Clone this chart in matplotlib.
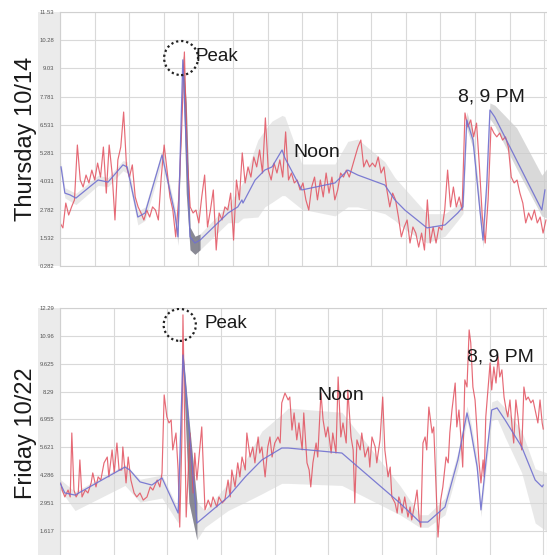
import numpy as np
import matplotlib.pyplot as plt
from matplotlib.patches import Ellipse, Rectangle

plt.rcParams['font.family'] = ['Liberation Sans', 'DejaVu Sans']

# ---- Thursday 10/14 ----
thu_ticks = [0.282, 1.532, 2.782, 4.031, 5.281, 6.531, 7.781, 9.03, 10.28, 11.53]
thu_ticklabels = ["0.282", "1.532", "2.782", "4.031", "5.281", "6.531", "7.781", "9.03", "10.28", "11.53"]

thu_raw = [2.19, 1.97, 3.07, 2.54, 2.90, 3.21, 5.64, 4.09, 3.78, 4.31, 3.96, 4.53, 4.09, 4.84, 4.22,
           5.55, 3.51, 5.64, 4.40, 2.32, 4.98, 5.55, 7.10, 4.67, 4.22, 4.76, 3.34, 2.90, 2.63, 2.32,
           2.76, 2.45, 2.90, 2.76, 2.32, 4.22, 5.64, 4.53, 3.34, 2.76, 1.57, 3.21, 6.17, 9.76, 4.98,
           2.90, 2.63, 2.76, 2.19, 3.34, 4.31, 2.01, 2.76, 3.65, 0.99, 2.63, 2.32, 2.90, 2.76, 3.51,
           1.43, 4.09, 3.21, 5.29, 3.96, 4.67, 4.22, 5.11, 4.67, 5.42, 4.40, 6.84, 4.53, 4.09, 4.84,
           4.40, 4.98, 4.22, 6.22, 4.09, 4.40, 3.96, 4.09, 3.65, 3.96, 3.21, 2.76, 3.78, 4.22, 3.21,
           4.09, 3.34, 4.40, 3.51, 4.22, 3.21, 3.65, 4.40, 4.22, 4.53, 4.22, 4.67, 5.11, 5.55, 5.86,
           4.67, 4.98, 4.67, 4.84, 4.67, 5.11, 4.40, 4.67, 3.65, 2.90, 3.51, 3.21, 2.45, 1.57, 2.01,
           2.32, 1.30, 2.01, 1.74, 1.12, 1.74, 0.99, 3.21, 1.30, 2.01, 1.30, 2.01, 1.88, 2.76, 4.53,
           2.90, 3.78, 2.90, 3.34, 2.76, 7.06, 6.44, 6.75, 6.00, 6.61, 4.67, 2.45, 1.30, 3.21, 6.44,
           6.17, 6.00, 6.17, 5.86, 6.00, 5.55, 4.22, 3.96, 4.09, 3.51, 3.07, 2.19, 2.63, 2.32, 2.76,
           2.19, 2.45, 1.74, 2.32]

thu_trend_x = [0.03, 0.14, 0.29, 0.46, 1.10, 1.39, 1.82, 1.94, 2.25, 2.46, 2.95, 3.32, 3.41, 3.55,
               3.76, 3.90, 4.05, 4.86, 5.14, 5.26, 5.29, 5.64, 5.92, 6.13, 6.42, 6.50, 6.99, 7.95,
               8.32, 8.61, 9.39, 9.68, 9.97, 10.61, 11.13, 11.50, 11.65, 11.76, 11.94, 12.14, 12.23,
               12.34, 12.43, 12.57, 13.93, 14.02]
thu_trend = [4.67, 3.51, 3.43, 3.29, 4.09, 4.00, 4.76, 4.67, 2.45, 2.63, 5.20, 2.63, 1.57, 9.41,
             1.57, 1.30, 1.43, 2.63, 2.90, 3.21, 3.07, 4.09, 4.53, 4.67, 5.42, 5.07, 3.65, 3.96,
             4.53, 4.31, 3.87, 3.21, 2.76, 1.97, 2.10, 2.63, 2.90, 6.75, 5.86, 2.76, 1.43,
             3.96, 7.19, 6.88, 2.76, 3.65]

thu_band_x = [0.03, 0.14, 0.46, 1.10, 1.39, 1.82, 1.94, 2.25, 2.46, 2.95, 3.32, 3.41, 3.55, 3.65,
              3.76, 3.90, 4.05, 4.86, 5.14, 5.29, 5.72, 5.92, 6.13, 6.42, 6.50, 6.99, 7.95, 8.32,
              8.61, 9.39, 9.68, 9.97, 10.61, 11.13, 11.50, 11.65, 11.76, 11.94, 12.14, 12.23, 12.34,
              12.43, 12.57, 13.20, 13.93, 14.08]
thu_band_lo = [4.4, 3.3, 3.0, 3.85, 3.8, 4.5, 4.4, 2.1, 2.3, 4.9, 2.3, 1.2, 9.0, 3.5,
               1.0, 0.8, 1.0, 2.2, 2.2, 2.4, 2.45, 2.9, 3.1, 3.4, 3.4, 2.8, 2.5, 2.9,
               2.9, 2.6, 2.3, 1.9, 1.3, 1.6, 2.3, 2.6, 6.4, 5.5, 2.4, 1.1, 3.6,
               6.8, 6.5, 4.6, 2.5, 2.4]
thu_band_hi = [4.9, 3.75, 3.5, 4.3, 4.2, 4.95, 4.9, 2.7, 2.9, 5.4, 2.9, 1.9, 9.6, 7.5,
               2.0, 1.6, 1.7, 3.0, 3.6, 4.0, 5.86, 6.3, 6.7, 6.95, 6.9, 4.8, 4.8, 5.8,
               5.9, 4.9, 4.2, 3.7, 2.6, 2.6, 3.0, 3.2, 7.1, 6.2, 3.1, 1.8, 4.3,
               7.5, 7.4, 6.4, 4.3, 4.6]

# ---- Friday 10/22 ----
fri_ticks = [0.282, 1.617, 2.951, 4.286, 5.621, 6.955, 8.29, 9.625, 10.96, 12.29]
fri_ticklabels = ["", "1.617", "2.951", "4.286", "5.621", "6.955", "8.29", "9.625", "10.96", "12.29"]

fri_raw_x = [0.00, 0.04, 0.09, 0.15, 0.19, 0.22, 0.26, 0.30, 0.34, 0.37, 0.41, 0.47, 0.52, 0.58, 0.61,
             0.67, 0.71, 0.76, 0.82, 0.88, 0.91, 0.97, 1.01, 1.06, 1.10, 1.15, 1.17, 1.23, 1.27, 1.32,
             1.38, 1.43, 1.49, 1.55, 1.62, 1.68, 1.73, 1.81, 1.86, 1.90, 1.94, 1.99, 2.03, 2.07, 2.10,
             2.16, 2.20, 2.23, 2.27, 2.29, 2.35, 2.42, 2.48, 2.51, 2.55, 2.64, 2.70, 2.76, 2.81, 2.85,
             2.92, 2.96, 3.02, 3.07, 3.13, 3.17, 3.20, 3.26, 3.31, 3.35, 3.39, 3.45, 3.48, 3.54, 3.59,
             3.63, 3.69, 3.72, 3.76, 3.82, 3.87, 3.91, 3.95, 4.00, 4.06, 4.10, 4.13, 4.19, 4.25, 4.28,
             4.32, 4.36, 4.41, 4.45, 4.51, 4.54, 4.60, 4.64, 4.67, 4.71, 4.77, 4.80, 4.86, 4.90, 4.95,
             4.99, 5.05, 5.08, 5.14, 5.18, 5.23, 5.27, 5.33, 5.36, 5.42, 5.46, 5.49, 5.53, 5.59, 5.62,
             5.68, 5.74, 5.77, 5.81, 5.87, 5.90, 5.96, 6.01, 6.05, 6.11, 6.15, 6.18, 6.24, 6.28, 6.31,
             6.33, 6.37, 6.42, 6.48, 6.52, 6.55, 6.61, 6.65, 6.69, 6.72, 6.76, 6.80, 6.83, 6.87, 6.93,
             6.96, 7.00, 7.04, 7.09, 7.13, 7.19, 7.23, 7.26, 7.30, 7.36, 7.39, 7.43, 7.47, 7.50, 7.54,
             7.58, 7.62, 7.65, 7.69, 7.73, 7.77, 7.80, 7.84, 7.88, 7.90, 7.93, 7.97, 8.01, 8.04, 8.08,
             8.12, 8.16, 8.19, 8.23, 8.27, 8.31, 8.34, 8.38, 8.42, 8.45, 8.49, 8.53, 8.57, 8.60, 8.64,
             8.68, 8.72, 8.77, 8.81, 8.86, 8.90, 8.94, 8.98, 9.00]
fri_raw = [4.06, 3.58, 3.25, 3.58, 3.25, 6.31, 3.58, 3.25, 3.44, 5.02, 3.25, 3.58, 3.44, 3.92, 4.40,
           3.73, 4.21, 4.06, 4.88, 5.16, 4.21, 5.50, 4.40, 5.83, 4.54, 4.54, 5.64, 3.92, 5.16, 4.06,
           3.44, 3.25, 3.44, 3.10, 3.25, 3.73, 3.58, 4.06, 3.73, 4.40, 8.13, 7.08, 6.79, 6.93, 5.50,
           6.31, 4.54, 1.81, 6.12, 11.96, 2.29, 6.31, 3.44, 5.35, 4.06, 6.60, 2.63, 3.10, 2.77, 3.25,
           2.77, 3.25, 2.96, 3.10, 4.06, 3.25, 4.54, 3.73, 4.88, 4.21, 5.16, 4.54, 6.31, 5.16, 5.64,
           4.88, 6.12, 5.35, 5.64, 4.21, 5.64, 6.12, 5.16, 5.83, 6.12, 5.83, 7.75, 8.22, 7.89, 8.03,
           6.45, 7.27, 5.98, 6.79, 5.50, 7.27, 4.88, 4.54, 3.73, 4.88, 5.83, 5.16, 8.22, 6.93, 6.12,
           6.60, 5.35, 6.31, 5.35, 8.99, 6.12, 6.79, 5.83, 8.37, 6.12, 5.50, 2.96, 5.98, 5.50, 6.31,
           5.16, 5.64, 4.68, 6.12, 5.64, 4.88, 5.98, 8.03, 5.50, 4.21, 4.68, 3.25, 2.96, 2.48, 3.25,
           3.10, 2.48, 3.25, 2.29, 2.77, 2.15, 2.96, 3.58, 2.15, 1.81, 5.83, 6.12, 5.50, 7.55, 6.31,
           6.60, 3.92, 1.33, 3.10, 3.73, 5.16, 4.88, 6.31, 7.41, 8.70, 6.60, 7.41, 5.98, 4.68, 8.85,
           8.51, 11.24, 10.62, 8.51, 7.89, 6.31, 5.02, 3.92, 5.02, 4.21, 7.08, 8.37, 9.66, 8.37, 9.47,
           8.70, 9.95, 8.99, 9.33, 8.03, 7.41, 7.08, 7.89, 6.60, 5.83, 7.89, 7.08, 5.98, 5.50, 8.51,
           7.89, 8.03, 7.75, 7.89, 7.27, 6.79, 7.89, 6.79, 6.50]

fri_trend_x = [0.00, 0.09, 0.28, 1.21, 1.30, 1.49, 1.71, 1.90, 2.20, 2.29, 2.55, 3.13, 3.45, 3.76,
               4.13, 4.25, 5.25, 6.33, 6.70, 6.85, 7.17, 7.41, 7.58, 7.64, 7.77, 7.84, 7.95, 8.04,
               8.14, 8.29, 8.60, 8.85, 8.98, 9.00]
fri_trend = [3.92, 3.44, 3.34, 4.68, 4.54, 3.97, 3.82, 4.16, 2.48, 10.04, 2.00, 3.25, 4.21, 5.02,
             5.59, 5.59, 5.35, 2.96, 2.05, 2.05, 2.77, 5.02, 7.27, 6.60, 4.68, 2.63, 5.35, 7.41,
             7.51, 6.93, 5.64, 4.06, 3.73, 3.82]

fri_band_x = [0.00, 0.28, 1.21, 1.49, 1.90, 2.20, 2.29, 2.40, 2.55, 2.70, 3.13, 3.45, 3.76, 4.13,
              4.25, 5.25, 6.33, 6.70, 6.85, 7.17, 7.41, 7.58, 7.64, 7.77, 7.84, 7.95, 8.04, 8.14,
              8.29, 8.60, 8.85, 9.07]
fri_band_lo = [3.6, 2.6, 3.8, 3.0, 3.2, 2.0, 9.6, 3.0, 1.2, 1.8, 2.6, 3.0, 3.4, 3.9,
               3.9, 3.8, 2.4, 1.8, 1.8, 2.4, 4.6, 6.9, 6.2, 4.3, 2.3, 4.9, 6.9, 7.0,
               6.1, 4.4, 2.0, 1.6]
fri_band_hi = [4.1, 3.5, 4.8, 4.1, 4.3, 2.7, 10.2, 7.0, 3.0, 2.6, 3.9, 5.0, 6.4, 7.2,
               7.5, 7.3, 3.8, 2.4, 2.4, 3.2, 5.4, 7.6, 7.0, 5.1, 3.0, 5.8, 7.8, 7.9,
               7.5, 6.4, 4.6, 4.4]

RED = '#e2505e'
BLUE = '#7070d0'


def draw_panel(ax, raw_x, raw, tx, trend, bx, blo, bhi, ticks, ticklabels, xmax, peak_rng, eve_rng):
    bx = np.array(bx)
    ax.fill_between(bx, blo, bhi, color='#d6d6d6', alpha=0.55, lw=0, zorder=1)
    ax.fill_between(bx, blo, bhi, where=(bx >= peak_rng[0]) & (bx <= peak_rng[1]),
                    color='#6a6a78', alpha=0.75, lw=0, zorder=1.5)
    if eve_rng is not None:
        ax.fill_between(bx, blo, bhi, where=(bx >= eve_rng[0]) & (bx <= eve_rng[1]),
                        color='#c4c4c4', alpha=0.4, lw=0, zorder=1.5)
    ax.plot(raw_x, raw, color=RED, lw=0.85, alpha=0.85, zorder=2)
    ax.plot(tx, trend, color=BLUE, lw=0.9, alpha=0.9, zorder=3)

    ax.set_xlim(0, xmax)
    ax.set_ylim(ticks[0], ticks[-1])
    ax.set_xticks(np.arange(0, int(xmax) + 1))
    ax.set_xticklabels([])
    ax.set_yticks(ticks)
    ax.set_yticklabels(ticklabels, fontsize=4.2, color='#555555')
    ax.tick_params(length=0, pad=4)
    ax.grid(True, color='#d9d9d9', lw=0.8)
    ax.set_axisbelow(True)
    for s in ax.spines.values():
        s.set_color('#d0d0d0')
        s.set_linewidth(0.8)
    ax.add_patch(Rectangle((-0.046, 0), 0.046, 1, transform=ax.transAxes,
                           facecolor='#ebebeb', edgecolor='none', clip_on=False, zorder=0))


fig = plt.figure(figsize=(5.47, 5.55), dpi=100)

ax1 = fig.add_axes([0.1097, 0.5207, 0.8903, 0.4577])
draw_panel(ax1, np.linspace(0, 14.05, len(thu_raw)), thu_raw, thu_trend_x, thu_trend,
           thu_band_x, thu_band_lo, thu_band_hi, thu_ticks, thu_ticklabels, 14.08,
           (3.40, 4.06), (11.6, 14.1))
ax1.set_ylabel("Thursday 10/14", fontsize=17, color='#1a1a1a', labelpad=2)
ax1.add_patch(Ellipse((3.50, 9.49), 0.98, 1.51, fill=False, ls=(0, (1, 1.3)), lw=1.6,
                      color='#222222', zorder=5))
ax1.text(3.93, 9.54, "Peak", fontsize=13.5, va='center', ha='left', color='#1a1a1a')
ax1.text(6.76, 5.33, "Noon", fontsize=14, va='center', ha='left', color='#1a1a1a')
ax1.text(11.50, 7.77, "8, 9 PM", fontsize=14, va='center', ha='left', color='#1a1a1a')

ax2 = fig.add_axes([0.1097, -0.0072, 0.8903, 0.4523])
draw_panel(ax2, fri_raw_x, fri_raw, fri_trend_x, fri_trend,
           fri_band_x, fri_band_lo, fri_band_hi, fri_ticks, fri_ticklabels, 9.07,
           (2.19, 2.60), None)
ax2.set_ylabel("Friday 10/22", fontsize=17, color='#1a1a1a', labelpad=2)
ax2.add_patch(Ellipse((2.23, 11.48), 0.60, 1.53, fill=False, ls=(0, (1, 1.3)), lw=1.6,
                      color='#222222', zorder=5))
ax2.text(2.70, 11.53, "Peak", fontsize=13.5, va='center', ha='left', color='#1a1a1a')
ax2.text(4.80, 8.08, "Noon", fontsize=14, va='center', ha='left', color='#1a1a1a')
ax2.text(7.58, 9.95, "8, 9 PM", fontsize=14, va='center', ha='left', color='#1a1a1a')

fig.savefig("out.png", dpi=100)
